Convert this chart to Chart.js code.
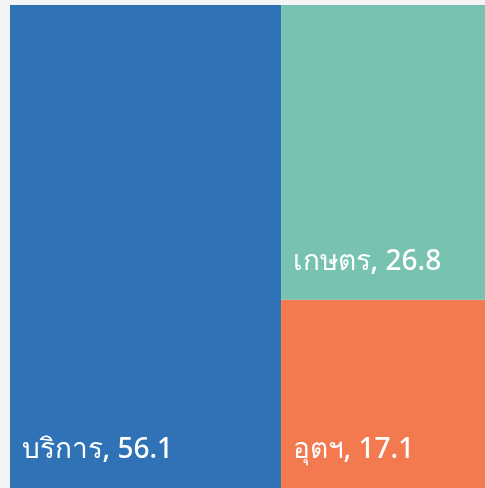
<!DOCTYPE html>
<html>
<head>
<meta charset="utf-8">
<script src="https://cdn.jsdelivr.net/npm/chart.js@4/dist/chart.umd.min.js"></script>
<style>
  html, body { margin: 0; padding: 0; background: #f4f4f4; }
  #wrap { width: 485px; height: 488px; }
</style>
</head>
<body>
<div id="wrap"><canvas id="c" width="485" height="488"></canvas></div>
<script>
const categories = ['บริการ', 'เกษตร', 'อุตฯ'];
const values = [56.1, 26.8, 17.1];
const colors = ['#2f72b5', '#77c2b0', '#f27a4e'];

// Treemap layout in data units (0..100 on both axes):
// first category takes a full-height column; the rest stack in the remaining column.
const total = values.reduce((a, b) => a + b, 0);
const rects = [];
const w0 = values[0] / total * 100;
rects.push({ x0: 0, x1: w0, y0: 0, y1: 100 });
const restTotal = values.slice(1).reduce((a, b) => a + b, 0);
let yTop = 100;
for (let i = 1; i < values.length; i++) {
  const h = values[i] / restTotal * 100;
  rects.push({ x0: w0, x1: 100, y0: yTop - h, y1: yTop });
  yTop -= h;
}

const datasets = rects.map((r, i) => ({
  label: categories[i],
  data: [{ x: r.x0, y: r.y1 }, { x: r.x1, y: r.y1 }],
  showLine: true,
  borderWidth: 0,
  pointRadius: 0,
  backgroundColor: colors[i],
  borderColor: colors[i],
  fill: { value: r.y0 },
}));

const labelPlugin = {
  id: 'tmLabels',
  afterDatasetsDraw(chart) {
    const { ctx, scales: { x, y } } = chart;
    ctx.save();
    ctx.fillStyle = '#ffffff';
    ctx.font = '500 28px "Noto Sans", sans-serif';
    ctx.textBaseline = 'alphabetic';
    ctx.textAlign = 'left';
    rects.forEach((r, i) => {
      const px = x.getPixelForValue(r.x0) + 11.5;
      const py = y.getPixelForValue(r.y0) - 30;
      ctx.fillText(categories[i] + ', ' + values[i], px, py);
    });
    ctx.restore();
  }
};

new Chart(document.getElementById('c'), {
  type: 'scatter',
  data: { datasets },
  plugins: [labelPlugin],
  options: {
    responsive: false,
    animation: false,
    layout: { padding: { left: 10, top: 5, right: 0, bottom: 0 } },
    plugins: { legend: { display: false }, tooltip: { enabled: false } },
    scales: {
      x: { type: 'linear', min: 0, max: 98.3, display: false },
      y: { type: 'linear', min: 0, max: 100, display: false }
    }
  }
});
</script>
</body>
</html>
